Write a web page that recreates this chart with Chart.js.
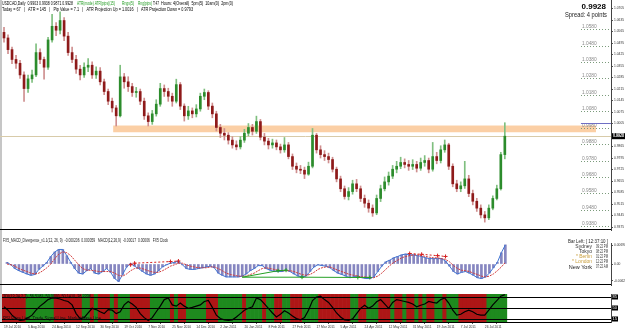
<!DOCTYPE html>
<html>
<head>
<meta charset="utf-8">
<title>USDCAD Daily</title>
<script src="https://cdn.jsdelivr.net/npm/chart.js"></script>
<style>
    body { margin: 0; background: #fff; }
    #wrap { position: relative; width: 625px; height: 330px; overflow: hidden; background: #fff; }
    #edge { position: absolute; left: 0; top: 0; width: 2px; height: 322px; background: #c6c6c6; }
    canvas { position: absolute; left: 0; }
</style>
</head>
<body>

<div id="wrap">
    <div id="edge"></div>
    <canvas id="priceChart" width="625" height="238" style="top:0px"></canvas>
    <canvas id="macdChart" width="625" height="55" style="top:238px"></canvas>
    <canvas id="oscChart" width="625" height="37" style="top:293px"></canvas>
</div>

<script>
// ---- data (one candle per slot, 152 slots incl. right margin) ----
const slotCount = 152;
const dateTicks = ['19 Jul 2010', '5 Aug 2010', '24 Aug 2010', '12 Sep 2010', '30 Sep 2010', '19 Oct 2010',
    '7 Nov 2010', '25 Nov 2010', '14 Dec 2010', '2 Jan 2011', '20 Jan 2011', '8 Feb 2011', '27 Feb 2011',
    '17 Mar 2011', '5 Apr 2011', '24 Apr 2011', '12 May 2011', '31 May 2011', '19 Jun 2011', '7 Jul 2011', '26 Jul 2011'];
const dateEvery = 6;

const firstOpen = 1.0560;
const closes = [
    1.0526, 1.0455, 1.0395, 1.0372, 1.0301, 1.0218, 1.0277, 1.0301, 1.0437, 1.0395,
    1.0348, 1.0514, 1.0597, 1.0573, 1.0632, 1.0537, 1.0437, 1.0395, 1.0336, 1.0301,
    1.0348, 1.0360, 1.0301, 1.0324, 1.0259, 1.0200, 1.0141, 1.0100, 1.0052, 1.0289,
    1.0259, 1.0230, 1.0194, 1.0200, 1.0141, 1.0052, 1.0017, 1.0064, 1.0123, 1.0218,
    1.0200, 1.0171, 1.0141, 1.0242, 1.0111, 1.0052, 1.0082, 1.0064, 1.0094, 1.0171,
    1.0194, 1.0111, 1.0064, 0.9981, 0.9946, 0.9934, 0.9904, 0.9875, 0.9863, 0.9904,
    0.9946, 0.9981, 0.9958, 1.0017, 0.9922, 0.9898, 0.9875, 0.9887, 0.9863, 0.9845,
    0.9875, 0.9804, 0.9745, 0.9727, 0.9721, 0.9697, 0.9745, 0.9934, 0.9845, 0.9816,
    0.9804, 0.9786, 0.9727, 0.9668, 0.9608, 0.9561, 0.9591, 0.9638, 0.9608, 0.9549,
    0.9520, 0.9490, 0.9461, 0.9549, 0.9608, 0.9650, 0.9685, 0.9727, 0.9745, 0.9768,
    0.9756, 0.9745, 0.9756, 0.9733, 0.9768, 0.9780, 0.9727, 0.9804, 0.9780, 0.9845,
    0.9875, 0.9745, 0.9638, 0.9608, 0.9626, 0.9668, 0.9579, 0.9532, 0.9490, 0.9449,
    0.9431, 0.9490, 0.9549, 0.9608, 0.9816, 0.9928
];
const highs = [
    1.0590, 1.0545, 1.0470, 1.0420, 1.0390, 1.0320, 1.0300, 1.0330, 1.0490, 1.0460,
    1.0410, 1.0530, 1.0670, 1.0620, 1.0685, 1.0650, 1.0560, 1.0470, 1.0420, 1.0360,
    1.0375, 1.0400, 1.0380, 1.0350, 1.0345, 1.0275, 1.0215, 1.0160, 1.0115, 1.0360,
    1.0310, 1.0290, 1.0250, 1.0225, 1.0215, 1.0160, 1.0070, 1.0085, 1.0150, 1.0250,
    1.0240, 1.0220, 1.0190, 1.0275, 1.0255, 1.0125, 1.0110, 1.0100, 1.0120, 1.0190,
    1.0215, 1.0205, 1.0130, 1.0080, 1.0000, 0.9975, 0.9950, 0.9925, 0.9900, 0.9925,
    0.9970, 1.0005, 1.0000, 1.0050, 1.0030, 0.9945, 0.9915, 0.9910, 0.9905, 0.9880,
    0.9920, 0.9890, 0.9820, 0.9765, 0.9750, 0.9740, 0.9770, 0.9975, 0.9945, 0.9870,
    0.9840, 0.9825, 0.9800, 0.9740, 0.9685, 0.9625, 0.9615, 0.9660, 0.9665, 0.9625,
    0.9570, 0.9540, 0.9510, 0.9570, 0.9630, 0.9680, 0.9710, 0.9750, 0.9775, 0.9800,
    0.9790, 0.9780, 0.9785, 0.9775, 0.9795, 0.9810, 0.9795, 0.9890, 0.9830, 0.9870,
    0.9905, 0.9885, 0.9760, 0.9660, 0.9650, 0.9775, 0.9690, 0.9600, 0.9550, 0.9510,
    0.9470, 0.9510, 0.9565, 0.9630, 0.9830, 1.0010
];
const lows = [
    1.0500, 1.0430, 1.0370, 1.0340, 1.0280, 1.0140, 1.0195, 1.0255, 1.0290, 1.0370,
    1.0275, 1.0335, 1.0500, 1.0540, 1.0550, 1.0510, 1.0420, 1.0375, 1.0310, 1.0270,
    1.0285, 1.0320, 1.0280, 1.0280, 1.0240, 1.0180, 1.0120, 1.0075, 0.9990, 1.0045,
    1.0220, 1.0200, 1.0170, 1.0165, 1.0120, 1.0030, 0.9990, 1.0000, 1.0050, 1.0110,
    1.0170, 1.0140, 1.0110, 1.0130, 1.0090, 1.0020, 1.0030, 1.0040, 1.0045, 1.0080,
    1.0150, 1.0090, 1.0040, 0.9960, 0.9920, 0.9905, 0.9880, 0.9855, 0.9845, 0.9850,
    0.9890, 0.9930, 0.9935, 0.9945, 0.9905, 0.9875, 0.9850, 0.9855, 0.9845, 0.9825,
    0.9830, 0.9790, 0.9725, 0.9705, 0.9700, 0.9670, 0.9690, 0.9735, 0.9825, 0.9795,
    0.9780, 0.9765, 0.9710, 0.9650, 0.9590, 0.9545, 0.9540, 0.9575, 0.9590, 0.9530,
    0.9495, 0.9465, 0.9440, 0.9450, 0.9530, 0.9595, 0.9630, 0.9670, 0.9705, 0.9730,
    0.9735, 0.9720, 0.9725, 0.9710, 0.9720, 0.9745, 0.9705, 0.9715, 0.9760, 0.9765,
    0.9830, 0.9725, 0.9620, 0.9590, 0.9590, 0.9610, 0.9560, 0.9510, 0.9470, 0.9430,
    0.9405, 0.9420, 0.9480, 0.9540, 0.9600, 0.9790
];

const priceTicks = [1.0705, 1.0635, 1.0565, 1.0495, 1.0425, 1.0355, 1.0285, 1.0215, 1.0145, 1.0075,
    1.0005, 0.9865, 0.9795, 0.9725, 0.9655, 0.9585, 0.9515, 0.9445, 0.9375];
const roundLevels = [1.0580, 1.0480, 1.0380, 1.0280, 1.0180, 1.0080, 0.9980, 0.9880, 0.9780, 0.9680, 0.9580, 0.9480, 0.9380];
const zonePrices = [0.9952, 0.9993];
const zoneSlots = [27.25, 147.75];
const bidPrice = 0.9928;
const blueLevel = 1.0010;

const macdHist = [
    0.0006, -0.0003, -0.0017, -0.0025, -0.0031, -0.0037, -0.0042, -0.0039, -0.0020, -0.0008,
    0.0006, 0.0028, 0.0045, 0.0054, 0.0054, 0.0031, 0.0006, -0.0017, -0.0034, -0.0037,
    -0.0025, -0.0017, -0.0034, -0.0037, -0.0028, -0.0017, -0.0031, -0.0054, -0.0065, -0.0039,
    -0.0011, 0.0002, -0.0008, -0.0017, -0.0028, -0.0037, -0.0042, -0.0037, -0.0025, -0.0011,
    -0.0003, 0.0003, 0.0006, 0.0011, -0.0003, -0.0017, -0.0020, -0.0020, -0.0017, -0.0014,
    -0.0011, -0.0008, -0.0014, -0.0034, -0.0042, -0.0048, -0.0048, -0.0048, -0.0048, -0.0045,
    -0.0037, -0.0025, -0.0017, -0.0006, -0.0006, -0.0017, -0.0023, -0.0028, -0.0028, -0.0028,
    -0.0023, -0.0028, -0.0037, -0.0045, -0.0048, -0.0045, -0.0028, -0.0011, -0.0003, -0.0006,
    -0.0008, -0.0014, -0.0025, -0.0034, -0.0039, -0.0045, -0.0051, -0.0048, -0.0045, -0.0051,
    -0.0054, -0.0054, -0.0048, -0.0028, -0.0008, 0.0008, 0.0014, 0.0023, 0.0028, 0.0034,
    0.0037, 0.0034, 0.0034, 0.0031, 0.0028, 0.0023, 0.0020, 0.0020, 0.0020, 0.0020,
    0.0011, -0.0008, -0.0028, -0.0037, -0.0031, -0.0028, -0.0034, -0.0042, -0.0051, -0.0054,
    -0.0048, -0.0034, -0.0014, 0.0006, 0.0042, 0.0071
];
const macdSignal = [
    0.0000, -0.0003, -0.0008, -0.0017, -0.0023, -0.0028, -0.0034, -0.0037, -0.0034, -0.0025,
    -0.0014, 0.0000, 0.0020, 0.0037, 0.0045, 0.0042, 0.0031, 0.0014, -0.0003, -0.0017,
    -0.0023, -0.0023, -0.0025, -0.0028, -0.0028, -0.0028, -0.0028, -0.0034, -0.0042, -0.0045,
    -0.0037, -0.0025, -0.0017, -0.0014, -0.0017, -0.0023, -0.0028, -0.0031, -0.0031, -0.0025,
    -0.0017, -0.0008, -0.0003, 0.0003, 0.0003, -0.0003, -0.0008, -0.0011, -0.0014, -0.0014,
    -0.0014, -0.0011, -0.0011, -0.0017, -0.0025, -0.0034, -0.0039, -0.0042, -0.0045, -0.0045,
    -0.0045, -0.0039, -0.0034, -0.0025, -0.0017, -0.0014, -0.0017, -0.0020, -0.0023, -0.0025,
    -0.0025, -0.0025, -0.0028, -0.0034, -0.0039, -0.0042, -0.0039, -0.0031, -0.0020, -0.0014,
    -0.0011, -0.0011, -0.0017, -0.0023, -0.0028, -0.0034, -0.0039, -0.0042, -0.0045, -0.0048,
    -0.0048, -0.0051, -0.0051, -0.0045, -0.0034, -0.0020, -0.0006, 0.0006, 0.0014, 0.0023,
    0.0028, 0.0031, 0.0034, 0.0034, 0.0031, 0.0028, 0.0025, 0.0023, 0.0023, 0.0020,
    0.0017, 0.0008, -0.0006, -0.0017, -0.0023, -0.0025, -0.0028, -0.0034, -0.0039, -0.0045,
    -0.0048, -0.0045, -0.0037, -0.0025, -0.0011, 0.0006
];
const macdTicks = [0.0069, 0, -0.0062];
// divergence lines: [slot, value]
const bearDivOct = [[31, -0.0003], [32, 0.0003], [41, 0.0009], [43, 0.0011]];
const bullDivJan = [[59, -0.0049], [68, -0.0025], [70, -0.0023]];
const bullDivLong = [[59, -0.0049], [74, -0.0049], [88, -0.0050], [91, -0.0050]];
const bearDivMay = [[101, 0.0039], [104, 0.0036], [108, 0.0031], [110, 0.0028]];

const oscLine = [
    54, 43, 27, 16, 10, 12, 19, 27, 43, 56,
    66, 77, 82, 82, 79, 74, 71, 60, 32, 16,
    19, 34, 49, 45, 38, 32, 45, 43, 32, 38,
    60, 71, 63, 52, 32, 19, 10, 19, 38, 56,
    77, 82, 60, 56, 66, 56, 49, 52, 56, 60,
    71, 74, 52, 27, 16, 12, 10, 12, 21, 32,
    43, 49, 54, 82, 77, 63, 49, 34, 21, 30,
    41, 34, 24, 16, 12, 19, 43, 74, 85, 88,
    77, 68, 52, 34, 21, 12, 10, 15, 32, 49,
    59, 49, 56, 70, 77, 63, 49, 68, 77, 74,
    71, 68, 63, 54, 59, 63, 71, 68, 66, 77,
    82, 66, 43, 27, 30, 38, 43, 38, 30, 27,
    27, 43, 60, 74, 88, 93
];
const oscTrend = ('rrrrrr ggggggg rrrrrrr gg r g rrr g r ggg rrrrr ggggg r g rr ggggg rrr gggggg r gggg r gg rr gg ' +
    'rrr gggg rrrrrrrr gg rr ggg rrr g rr g rr g r g rr gg r ggg rrrrrrr ggggg').replace(/ /g, '').split('');
const oscLevels = [85, 50, 15];
const oscRange = [5, 95];

// ---- helpers ----
const FONT = '"Liberation Sans", Arial, sans-serif';
const slotLabels = Array.from({ length: slotCount }, (_, i) => String(i));
const opens = closes.map((c, i) => i === 0 ? firstOpen : closes[i - 1]);
const isUp = closes.map((c, i) => c >= opens[i]);

function text(ctx, s, x, y, size, color, opts) {
    opts = opts || {};
    ctx.save();
    ctx.font = (opts.bold ? 'bold ' : '') + size + 'px ' + FONT;
    ctx.fillStyle = color;
    ctx.textAlign = opts.align || 'left';
    ctx.textBaseline = 'middle';
    if (opts.w) ctx.fillText(s, x, y, opts.w); else ctx.fillText(s, x, y);
    ctx.restore();
}

function slotAxis(show) {
    return {
        type: 'category', offset: true, display: show,
        grid: { drawOnChartArea: false, tickLength: 2, color: '#555' },
        border: { display: false },
        ticks: {
            autoSkip: false, maxRotation: 0, minRotation: 0, align: 'start', padding: 1,
            font: { size: 3.3, family: FONT }, color: '#333',
            callback: (v, i) => (i % dateEvery === 0 && dateTicks[i / dateEvery]) ? dateTicks[i / dateEvery] : null
        },
        afterFit(s) { s.height = 8; s.paddingLeft = 0; s.paddingRight = 0; }
    };
}

function rightAxis(min, max, tickValues, fmt) {
    return {
        position: 'right', min: min, max: max,
        grid: { drawOnChartArea: false, tickLength: 2, color: '#555' },
        border: { color: '#444' },
        ticks: { font: { size: 3.3, family: FONT }, color: '#333', padding: 1, callback: fmt },
        afterBuildTicks(s) { s.ticks = tickValues.map(v => ({ value: v })); },
        afterFit(s) { s.width = 14; s.paddingTop = 0; s.paddingBottom = 0; }
    };
}

const baseOptions = {
    responsive: false, animation: false, devicePixelRatio: 1, events: [],
    plugins: { legend: { display: false }, tooltip: { enabled: false } }
};

// ---- main price panel ----
const priceDecor = {
    id: 'priceDecor',
    beforeDatasetsDraw(chart) {
        const { ctx, chartArea: a, scales: { x, y } } = chart;
        ctx.save();
        const zx0 = x.getPixelForValue(zoneSlots[0]), zx1 = x.getPixelForValue(zoneSlots[1]);
        const zy0 = y.getPixelForValue(zonePrices[1]), zy1 = y.getPixelForValue(zonePrices[0]);
        ctx.fillStyle = '#fbcfa5';
        ctx.fillRect(zx0, zy0, zx1 - zx0, zy1 - zy0);

        const by = Math.round(y.getPixelForValue(bidPrice)) + 0.5;
        ctx.strokeStyle = '#d8cba9';
        ctx.lineWidth = 1;
        ctx.beginPath(); ctx.moveTo(0, by); ctx.lineTo(a.right, by); ctx.stroke();

        ctx.strokeStyle = '#7b9b7b';
        ctx.setLineDash([1, 2]);
        roundLevels.forEach(lv => {
            const ly = Math.round(y.getPixelForValue(lv)) + 0.5;
            ctx.beginPath(); ctx.moveTo(581, ly); ctx.lineTo(a.right, ly); ctx.stroke();
            text(ctx, lv.toFixed(4), 582, ly - 3, 4.8, '#8a8a8a', { w: 15 });
        });
        ctx.setLineDash([]);

        const bl = Math.round(y.getPixelForValue(blueLevel)) + 0.5;
        ctx.strokeStyle = '#6f6fc4';
        ctx.beginPath(); ctx.moveTo(x.getPixelForValue(144), bl); ctx.lineTo(a.right, bl); ctx.stroke();
        ctx.restore();
    },
    afterDraw(chart) {
        const { ctx, chartArea: a, scales: { y } } = chart;
        ctx.save();
        ctx.fillStyle = '#000';
        ctx.fillRect(0, a.bottom - 1, a.right, 1);

        // bid price tag on the axis
        const by = y.getPixelForValue(bidPrice);
        ctx.fillStyle = '#000';
        ctx.fillRect(a.right + 1, by - 3, 13, 6);
        text(ctx, bidPrice.toFixed(4), a.right + 2, by, 4.5, '#fff', { bold: true, w: 11 });

        // header lines
        text(ctx, 'USDCAD,Daily  0.9903 0.9938 0.9871 0.9928', 2, 4, 5, '#000', { w: 71 });
        text(ctx, 'ATR(mode) ATR(pips)(15)', 77, 4, 5, '#1f9a1f', { w: 38 });
        text(ctx, 'Rngs(5)', 122, 4, 5, '#1f9a1f', { w: 12 });
        text(ctx, 'Rng(pips)', 138, 4, 5, '#1f9a1f', { w: 14 });
        text(ctx, 'T:47', 153, 4, 5, '#000', { w: 6 });
        text(ctx, 'Hours: 4(Overall)  5pm(5)  10am(0)  2pm(0)', 161, 4, 5, '#000', { w: 72 });
        text(ctx, 'Today = 67   |   ATR = 145   |   Pip Value = 7.1   |   ATR Projection Up = 1.0016   |   ATR Projection Down = 0.9793',
            2, 10, 5, '#000', { w: 191 });

        // top-right quote
        text(ctx, '0.9928', 606, 7, 8, '#000', { bold: true, align: 'right' });
        text(ctx, 'Spread: 4 points', 607, 15, 7, '#222', { align: 'right', w: 42 });
        ctx.restore();
    }
};

new Chart(document.getElementById('priceChart'), {
    type: 'bar',
    data: {
        labels: slotLabels,
        datasets: [
            {
                label: 'body',
                data: closes.map((c, i) => [opens[i], c]),
                backgroundColor: isUp.map(u => u ? '#2c8c2c' : '#8e1a1a'),
                barThickness: 2, grouped: false, borderWidth: 0, order: 0
            },
            {
                label: 'wick',
                data: closes.map((c, i) => [lows[i], highs[i]]),
                backgroundColor: isUp.map(u => u ? '#7fbf7f' : '#cf8f8f'),
                barThickness: 1, grouped: false, borderWidth: 0, order: 1
            }
        ]
    },
    options: Object.assign({}, baseOptions, {
        layout: { padding: { left: 2, right: 0, top: 0, bottom: 0 } },
        scales: {
            x: slotAxis(false),
            y: rightAxis(0.9357, 1.0757, priceTicks, v => v.toFixed(4))
        }
    }),
    plugins: [priceDecor]
});

// ---- MACD panel ----
function divDataset(points, color, dashed, markFrom) {
    return {
        type: 'line',
        data: points.map(([i, v]) => ({ x: String(i), y: v })),
        borderColor: color, borderWidth: 1, borderDash: dashed ? [2, 2] : [],
        pointStyle: 'cross', pointBorderColor: color, pointBorderWidth: 1,
        pointRadius: c => c.dataIndex >= markFrom ? 2 : 0,
        order: 0
    };
}

const macdDecor = {
    id: 'macdDecor',
    afterDraw(chart) {
        const { ctx, chartArea: a } = chart;
        ctx.save();
        ctx.fillStyle = '#000';
        ctx.fillRect(0, a.bottom - 1, a.right, 1);
        text(ctx, 'FX5_MACD_Divergence_v1.1(12, 26, 9)  -0.000206  0.000059   MACD(12,26,9)  -0.00017  0.00006   FX5 Clock',
            3, 3, 4.8, '#222', { w: 165 });
        text(ctx, 'Bar Left: [ 12:37:10 ]', 608, 4, 5, '#222', { align: 'right', w: 40 });
        const rows = [['Sydney', '09:22 PM', '#333'], ['Tokyo', '08:22 PM', '#333'], ['* Berlin', '01:22 PM', '#c9a040'],
            ['* London', '12:22 PM', '#c9a040'], ['New York', '07:22 AM', '#222']];
        rows.forEach((r, k) => {
            const yy = 9 + k * 5;
            text(ctx, r[0], 592, yy, k === 4 ? 5.5 : 5, r[2], { align: 'right' });
            text(ctx, r[1], 596, yy, 5, '#333', { w: 12 });
        });
        ctx.restore();
    }
};

new Chart(document.getElementById('macdChart'), {
    type: 'bar',
    data: {
        labels: slotLabels,
        datasets: [
            divDataset(bearDivOct, '#d42020', true, 0),
            divDataset(bullDivJan, '#24a024', false, 1),
            divDataset(bullDivLong, '#24a024', false, 1),
            divDataset(bearDivMay, '#d42020', true, 0),
            {
                type: 'line', data: macdSignal, borderColor: '#d03a3a', borderWidth: 1,
                borderDash: [2, 1], pointRadius: 0, order: 1
            },
            {
                type: 'line', data: macdHist, borderColor: '#3f74d4', borderWidth: 1,
                pointRadius: 0, order: 2
            },
            {
                data: macdHist, backgroundColor: '#8686c0', barThickness: 2,
                grouped: false, borderWidth: 0, order: 3
            }
        ]
    },
    options: Object.assign({}, baseOptions, {
        layout: { padding: { left: 2, right: 0, top: 0, bottom: 0 } },
        scales: {
            x: slotAxis(false),
            y: rightAxis(-0.0078, 0.0078, macdTicks, v => v === 0 ? '0.00' : v.toFixed(5))
        }
    }),
    plugins: [macdDecor]
});

// ---- oscillator panel ----
const oscDecor = {
    id: 'oscDecor',
    afterDatasetsDraw(chart) {
        const { ctx, chartArea: a, scales: { y } } = chart;
        ctx.save();
        ctx.fillStyle = '#000';
        oscLevels.forEach(lv => {
            const ly = Math.round(y.getPixelForValue(lv));
            ctx.fillRect(a.left, ly, a.right - a.left, 1);
            ctx.fillRect(a.right + 1, ly - 2.5, 6, 5);
            text(ctx, String(lv), a.right + 1.5, ly, 4, '#fff', { w: 5 });
        });
        ctx.fillRect(0, a.bottom, a.right, 1);
        text(ctx, 'TDI(13,34,2,7)  56.5181  50.0000  50.1410  38.2236', 3, a.top + 3, 4.5, '#111', { w: 88 });
        text(ctx, 'RSI Price Line  Trade Signal Line  Market Base Line', 3, a.bottom - 3, 4.5, '#111', { w: 98 });
        ctx.restore();
    }
};

new Chart(document.getElementById('oscChart'), {
    type: 'bar',
    data: {
        labels: slotLabels,
        datasets: [
            {
                type: 'line', data: oscLine, borderColor: '#000', borderWidth: 1.2,
                pointRadius: 0, order: 0
            },
            {
                data: oscTrend.map(() => oscRange),
                backgroundColor: oscTrend.map(t => t === 'r' ? '#ae1616' : '#1e8a1e'),
                barPercentage: 1, categoryPercentage: 1, grouped: false, borderWidth: 0, order: 1
            }
        ]
    },
    options: Object.assign({}, baseOptions, {
        layout: { padding: { left: 2, right: 0, top: 1, bottom: 0 } },
        scales: {
            x: slotAxis(true),
            y: rightAxis(oscRange[0], oscRange[1], [], v => '')
        }
    }),
    plugins: [oscDecor]
});
</script>

</body>
</html>
